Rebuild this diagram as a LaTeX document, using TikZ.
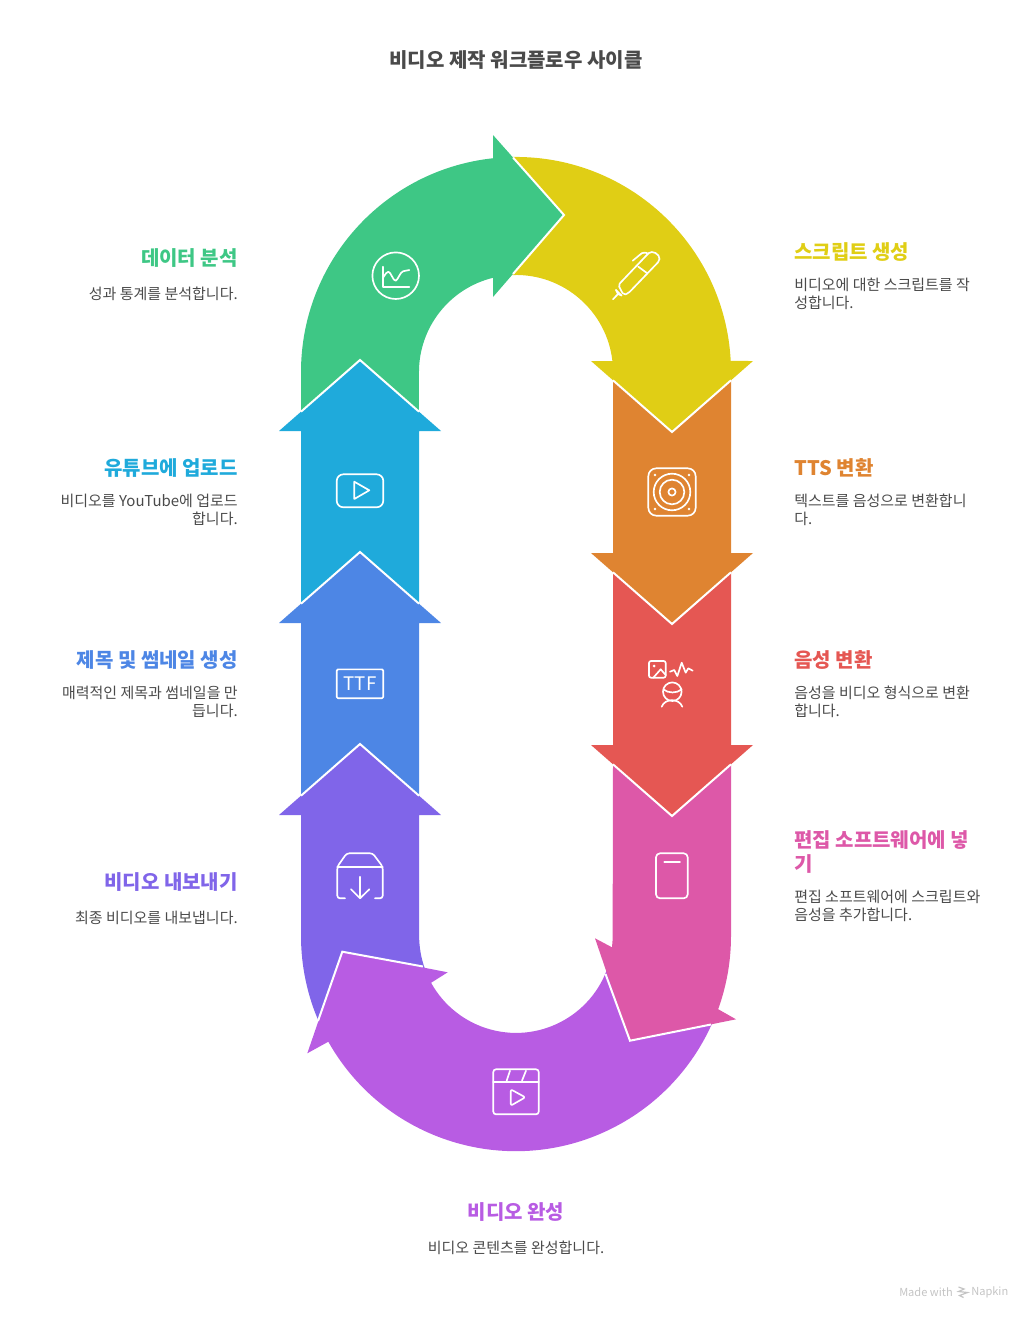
\documentclass[tikz,border=0pt]{standalone}
\usepackage{fontspec}
\setmainfont{Noto Sans CJK KR}
\definecolor{npgreen}{HTML}{3EC785}
\definecolor{npyellow}{HTML}{E0CE15}
\definecolor{nporange}{HTML}{DF8431}
\definecolor{npred}{HTML}{E55753}
\definecolor{nppink}{HTML}{DD58A8}
\definecolor{nppurple}{HTML}{B85CE3}
\definecolor{npviolet}{HTML}{8065E9}
\definecolor{npblue}{HTML}{4D86E5}
\definecolor{npsky}{HTML}{1FAADB}
\definecolor{nptext}{HTML}{4A4A4A}
\definecolor{npmark}{HTML}{C4C4C4}
\tikzset{
  seam/.style={white, line width=1.5pt, line join=miter},
  iconline/.style={white, line width=1.25pt, line cap=round, line join=round},
  stagehead/.style={text=#1, font=\fontsize{15}{18}\selectfont\bfseries, inner sep=0pt},
  stagedesc/.style={text=nptext, font=\fontsize{11.25}{13.5}\selectfont, inner sep=0pt},
}
\begin{document}
\begin{tikzpicture}[x=0.75pt, y=0.75pt]
  \useasboundingbox (0,0) rectangle (1032,-1320);
  \node[text=nptext, font=\fontsize{15}{18}\selectfont\bfseries, inner sep=0pt] (title) at (516,-60) {비디오 제작 워크플로우 사이클};
  \fill[npred] (613,-567) -- (731,-567) -- (731,-745) -- (753,-745) -- (672,-816) -- (591,-745) -- (613,-745) -- cycle;
  \fill[nporange] (613,-375) -- (731,-375) -- (731,-553) -- (753,-553) -- (672,-624) -- (591,-553) -- (613,-553) -- cycle;
  \draw[seam] (613,-572.3) -- (672,-624) -- (731,-572.3);
  \fill[npyellow] (508.5,-157.1) arc[start angle=92, end angle=2.93, radius=215] -- (753,-361) -- (672,-432) -- (591,-361) -- (612.4,-361) arc[start angle=6.5, end angle=92, radius=97] -- cycle;
  \draw[seam] (613,-380.3) -- (672,-432) -- (731,-380.3);
  \fill[npgreen] (301,-431) -- (301,-372) arc[start angle=180, end angle=96.14, radius=215] -- (493,-135) -- (564,-215) -- (493,-297) -- (493,-277.8) arc[start angle=103.7, end angle=180, radius=97] -- (419,-431) -- cycle;
  \draw[seam] (513,-157.5) -- (564,-215) -- (513,-274);
  \fill[npsky] (301,-620) -- (301,-431) -- (279,-431) -- (360,-360) -- (441,-431) -- (419,-431) -- (419,-620) -- cycle;
  \draw[seam] (301,-411.7) -- (360,-360) -- (419,-411.7);
  \fill[npblue] (301,-812) -- (301,-623) -- (279,-623) -- (360,-552) -- (441,-623) -- (419,-623) -- (419,-812) -- cycle;
  \draw[seam] (301,-603.7) -- (360,-552) -- (419,-603.7);
  \fill[npviolet] (419,-815) -- (441,-815) -- (360,-744) -- (279,-815) -- (301,-815) -- (301,-936) arc[start angle=180, end angle=204, radius=215] -- (425,-969) arc[start angle=200, end angle=180, radius=97] -- cycle;
  \draw[seam] (301,-795.7) -- (360,-744) -- (419,-795.7);
  \fill[nppurple] (328.3,-1041.7) arc[start angle=209.4, end angle=338, radius=215] -- (609.7,-961) arc[start angle=345, end angle=208.9, radius=97] -- (447.7,-972.3) -- (342.3,-951.7) -- (307.3,-1053.3) -- cycle;
  \draw[seam] (423,-966.5) -- (342.3,-951.7) -- (318,-1021);
  \fill[nppink] (613,-764.3) -- (672,-816) -- (731,-764.3) -- (731,-936) arc[start angle=0, end angle=-19.9, radius=215] -- (736,-1019.3) -- (630,-1040.7) -- (595,-938.3) -- (612,-947.3) arc[start angle=-6.5, end angle=0, radius=97] -- cycle;
  \draw[seam] (605.5,-974) -- (630,-1040.7) -- (711,-1024.5);
  \draw[seam] (613,-764.3) -- (672,-816) -- (731,-764.3);

  \draw[iconline] (395.7,-275.7) circle (23.3);
  \draw[iconline] (383.3,-266.7) -- (383.3,-286.7) -- (409.3,-286.7);
  \draw[iconline] (383.5,-277) .. controls (385,-274) and (387,-272) .. (388.3,-271.7) .. controls (391,-272) and (393,-281) .. (395.7,-280.7) .. controls (398,-280) and (400,-272) .. (403.3,-271.2) -- (409.3,-270);

  \draw[iconline, rounded corners=1.5pt] (618.3,-285) -- (647.3,-254.5) .. controls (652,-250) and (660,-254) .. (659.3,-261) -- (628.3,-293.3) -- (623.5,-295) -- cycle;
  \draw[iconline] (638.3,-266.7) -- (647.3,-273.3);
  \draw[iconline] (632.7,-260.7) -- (641.7,-253.3) .. controls (643,-252.5) and (645,-252.5) .. (647,-253);
  \draw[iconline] (616,-290) -- (621.5,-295.5);
  \draw[iconline] (613,-299.3) -- (618,-294);
  \draw[iconline] (616,-290) -- (618,-294) -- (621.5,-295.5);

  \draw[iconline, rounded corners=6pt] (648.3,-468.3) rectangle (695.7,-515.7);
  \draw[iconline] (672,-492) circle (18.3) circle (12.3) circle (3.6);
  \fill[white] (655,-475) circle (1.3) (689,-475) circle (1.3) (655,-509) circle (1.3) (689,-509) circle (1.3);

  \draw[iconline, rounded corners=1.5pt] (649,-661) rectangle (665.7,-677.7);
  \fill[white] (654,-666) circle (1.5);
  \draw[iconline] (653.3,-677.7) -- (660.7,-669.3) -- (665.7,-675);
  \draw[iconline] (670,-671.7) -- (674.3,-670) -- (677.3,-676) -- (681.7,-662.7) -- (685.7,-672.7) -- (688.3,-668.3) -- (692.7,-670.7);
  \draw[iconline] (672.3,-691.7) circle (9.3);
  \draw[iconline] (663.3,-689.3) .. controls (668,-693.5) and (677,-693.5) .. (681.7,-689.3);
  \draw[iconline] (661.7,-706.7) .. controls (665,-698) and (679,-698) .. (682.3,-706.7);

  \draw[iconline, rounded corners=3pt] (656,-853.3) rectangle (687.7,-898.3);
  \draw[iconline] (664.3,-862) -- (680,-862);

  \draw[iconline, rounded corners=2pt] (345,-898.3) -- (337.3,-898.3) -- (337.3,-866.7) -- (346.7,-853.3) -- (372.7,-853.3) -- (382.7,-866.7) -- (382.7,-898.3) -- (375,-898.3);
  \draw[iconline] (337.3,-866.7) -- (382.7,-866.7);
  \draw[iconline] (360,-876.7) -- (360,-898.3) (351,-889.3) -- (360,-898.3) -- (369.3,-889.3);

  \draw[iconline, rounded corners=2pt] (493.3,-1069.3) rectangle (538.7,-1114.3);
  \draw[iconline] (493.3,-1081.7) -- (538.7,-1081.7);
  \draw[iconline] (510,-1070.7) -- (506.7,-1080.7) (526,-1070.7) -- (522,-1080.7);
  \draw[iconline, rounded corners=1.5pt] (510.7,-1089.3) -- (510.7,-1105.7) -- (525.3,-1097.3) -- cycle;

  \node[iconline, draw, rounded corners=1pt, minimum width=34.9pt, minimum height=21.7pt, inner sep=0pt, text=white, font=\fontsize{14}{14}\selectfont] (ttficon) at (360,-683.8) {TTF};

  \draw[iconline, rounded corners=5pt] (336.7,-474.3) rectangle (383.3,-507.3);
  \draw[iconline] (354.3,-481.7) -- (354.3,-499) -- (369.3,-490.3) -- cycle;

  \node[stagehead=npgreen, anchor=east] (analysishead) at (238,-258) {데이터 분석};
  \node[stagedesc, anchor=east] (analysisdesc) at (238,-294) {성과 통계를 분석합니다.};
  \node[stagehead=npsky, anchor=east] (uploadhead) at (238,-468) {유튜브에 업로드};
  \node[stagedesc, anchor=east, align=right] (uploaddesc) at (238,-510) {비디오를 YouTube에 업로드\\합니다.};
  \node[stagehead=npblue, anchor=east] (titlehead) at (238,-660) {제목 및 썸네일 생성};
  \node[stagedesc, anchor=east, align=right] (titledesc) at (238,-702) {매력적인 제목과 썸네일을 만\\듭니다.};
  \node[stagehead=npviolet, anchor=east] (exporthead) at (238,-882) {비디오 내보내기};
  \node[stagedesc, anchor=east] (exportdesc) at (238,-918) {최종 비디오를 내보냅니다.};
  \node[stagehead=npyellow, anchor=west] (scripthead) at (794,-252) {스크립트 생성};
  \node[stagedesc, anchor=west, align=left] (scriptdesc) at (794,-294) {비디오에 대한 스크립트를 작\\성합니다.};
  \node[stagehead=nporange, anchor=west] (ttshead) at (794,-468) {TTS 변환};
  \node[stagedesc, anchor=west, align=left] (ttsdesc) at (794,-510) {텍스트를 음성으로 변환합니\\다.};
  \node[stagehead=npred, anchor=west] (voicehead) at (794,-660) {음성 변환};
  \node[stagedesc, anchor=west, align=left] (voicedesc) at (794,-702) {음성을 비디오 형식으로 변환\\합니다.};
  \node[stagehead=nppink, anchor=west, align=left] (edithead) at (794,-852) {편집 소프트웨어에 넣\\기};
  \node[stagedesc, anchor=west, align=left] (editdesc) at (794,-906) {편집 소프트웨어에 스크립트와\\음성을 추가합니다.};
  \node[stagehead=nppurple] (finishhead) at (516,-1212) {비디오 완성};
  \node[stagedesc] (finishdesc) at (516,-1248) {비디오 콘텐츠를 완성합니다.};

  \node[text=npmark, font=\fontsize{8.3}{8.3}\selectfont, inner sep=0pt, anchor=east] (madewith) at (953,-1292.5) {Made with};
  \node[text=npmark, font=\fontsize{8.3}{8.3}\selectfont, inner sep=0pt, anchor=west] (napkin) at (971,-1292.5) {Napkin};
  \draw[npmark, line width=0.9pt] (958.5,-1287) -- (964,-1289) -- (958.5,-1291.5) -- (967.5,-1292.5) -- (959.5,-1295.5) -- (963.5,-1297.5);
\end{tikzpicture}
\end{document}
